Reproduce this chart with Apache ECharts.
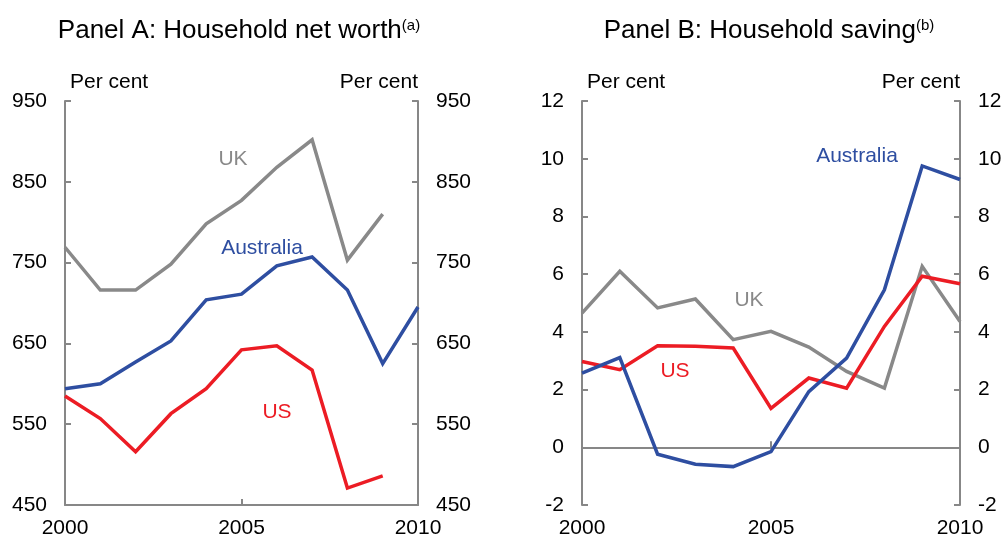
<!DOCTYPE html>
<html>
<head>
<meta charset="utf-8">
<script src="https://cdn.jsdelivr.net/npm/echarts@6/dist/echarts.min.js"></script>
<style>html,body{margin:0;padding:0;background:#fff}#c{width:1005px;height:540px}</style>
</head>
<body>
<div id="c"></div>
<script>
// ---- Data ----
var years = [2000, 2001, 2002, 2003, 2004, 2005, 2006, 2007, 2008, 2009, 2010];

// Panel A: Household net worth (per cent of income)
var netWorthUK        = [769, 716, 716, 748, 798, 827, 868, 902, 753, 810, null];
var netWorthAustralia = [594, 600, 627, 653, 704, 711, 746, 757, 716, 625, 695];
var netWorthUS        = [585, 557, 516, 563, 594, 642, 647, 617, 471, 486, null];

// Panel B: Household saving (per cent)
var savingUK        = [4.65, 6.1, 4.83, 5.14, 3.73, 4.02, 3.47, 2.63, 2.05, 6.27, 4.36];
var savingAustralia = [2.57, 3.11, -0.24, -0.59, -0.67, -0.15, 1.93, 3.09, 5.46, 9.75, 9.28];
var savingUS        = [2.97, 2.69, 3.52, 3.5, 3.44, 1.35, 2.4, 2.05, 4.19, 5.93, 5.67];

var ticksA = [450, 550, 650, 750, 850, 950];
var ticksB = [-2, 0, 2, 4, 6, 8, 10, 12];
var xTicks = [2000, 2005, 2010];

function pairs(xs, ys) {
  return xs.map(function (x, i) { return [x, ys[i]]; });
}

var FONT = '"Liberation Sans", Arial, sans-serif';
var AXIS = '#878787';
var C_UK = '#898989', C_AU = '#2e4ea1', C_US = '#ec1c24';

function plain(v) { return String(v); }

function yAxisDef(grid, pos, min, max, vals) {
  return {
    type: 'value', gridIndex: grid, position: pos, min: min, max: max,
    splitLine: { show: false },
    axisLine: { show: true, onZero: false, lineStyle: { color: AXIS, width: 2 } },
    axisTick: { show: true, inside: true, length: 6, customValues: vals, lineStyle: { color: AXIS, width: 2 } },
    axisLabel: { customValues: vals, inside: false, margin: 18, color: '#000', fontSize: 21, fontFamily: FONT, formatter: plain },
    name: 'Per cent', nameLocation: 'end', nameGap: 19,
    nameTextStyle: { color: '#000', fontSize: 21, fontFamily: FONT, align: pos === 'left' ? 'left' : 'right',
      verticalAlign: 'middle', padding: pos === 'left' ? [0, 0, 0, 5] : [0, 0, 0, 0] }
  };
}

function xAxisBase(grid) {
  return {
    type: 'value', gridIndex: grid, min: 2000, max: 2010, position: 'bottom',
    splitLine: { show: false },
    axisTick: { customValues: xTicks },
    axisLabel: { customValues: xTicks, showMinLabel: true, showMaxLabel: true, margin: 13, color: '#000', fontSize: 21, fontFamily: FONT, formatter: plain }
  };
}

var xA = xAxisBase(0);
xA.axisLine = { show: true, onZero: false, lineStyle: { color: AXIS, width: 2 } };
xA.axisTick = { show: true, inside: true, length: 6, customValues: [2005], lineStyle: { color: AXIS, width: 2 } };

var xBLabels = xAxisBase(1);
xBLabels.axisLine = { show: false, onZero: false };
xBLabels.axisTick = { show: false };

var xBZero = xAxisBase(1);
xBZero.axisLine = { show: true, onZero: true, lineStyle: { color: AXIS, width: 2 } };
xBZero.axisTick = { show: true, inside: true, length: 6, customValues: [2005], lineStyle: { color: AXIS, width: 2 } };
xBZero.axisLabel = { show: false };

function line(name, xi, yi, data, color) {
  return {
    name: name, type: 'line', xAxisIndex: xi, yAxisIndex: yi, data: data,
    showSymbol: false, symbol: 'none', silent: true, animation: false,
    lineStyle: { color: color, width: 3.5, join: 'miter' }, z: 3
  };
}

function txt(x, y, s, color, size) {
  return { type: 'text', x: x, y: y, silent: true,
    style: { text: s, fill: color, font: (size || 21) + 'px ' + FONT, align: 'center', verticalAlign: 'middle' } };
}

var titleRich = {
  m: { fontSize: 26, fontWeight: 'normal', fontFamily: FONT, color: '#000' },
  s: { fontSize: 15, fontWeight: 'normal', fontFamily: FONT, color: '#000', verticalAlign: 'top' }
};

var chart = echarts.init(document.getElementById('c'), null, { renderer: 'canvas' });
chart.setOption({
  animation: false,
  backgroundColor: '#fff',
  title: [
    { text: '{m|Panel A: Household net worth}{s|(a)}', left: 234, textAlign: 'center', top: 13,
      textStyle: { fontWeight: 'normal', rich: titleRich } },
    { text: '{m|Panel B: Household saving}{s|(b)}', left: 764, textAlign: 'center', top: 13,
      textStyle: { fontWeight: 'normal', rich: titleRich } }
  ],
  grid: [
    { left: 65, top: 101, width: 353, height: 404, containLabel: false, outerBoundsMode: 'none' },
    { left: 582, top: 101, width: 378, height: 404, containLabel: false, outerBoundsMode: 'none' }
  ],
  xAxis: [xA, xBLabels, xBZero],
  yAxis: [
    yAxisDef(0, 'left', 450, 950, ticksA),
    yAxisDef(0, 'right', 450, 950, ticksA),
    yAxisDef(1, 'left', -2, 12, ticksB),
    yAxisDef(1, 'right', -2, 12, ticksB)
  ],
  series: [
    line('UK', 0, 0, pairs(years, netWorthUK), C_UK),
    line('Australia', 0, 0, pairs(years, netWorthAustralia), C_AU),
    line('US', 0, 0, pairs(years, netWorthUS), C_US),
    line('UK', 2, 2, pairs(years, savingUK), C_UK),
    line('US', 2, 2, pairs(years, savingUS), C_US),
    line('Australia', 2, 2, pairs(years, savingAustralia), C_AU)
  ],
  graphic: [
    txt(233, 159, 'UK', C_UK),
    txt(262, 248, 'Australia', C_AU),
    txt(277, 412, 'US', C_US),
    txt(857, 156, 'Australia', C_AU),
    txt(749, 300, 'UK', C_UK),
    txt(675, 371, 'US', C_US)
  ]
});
</script>
</body>
</html>
